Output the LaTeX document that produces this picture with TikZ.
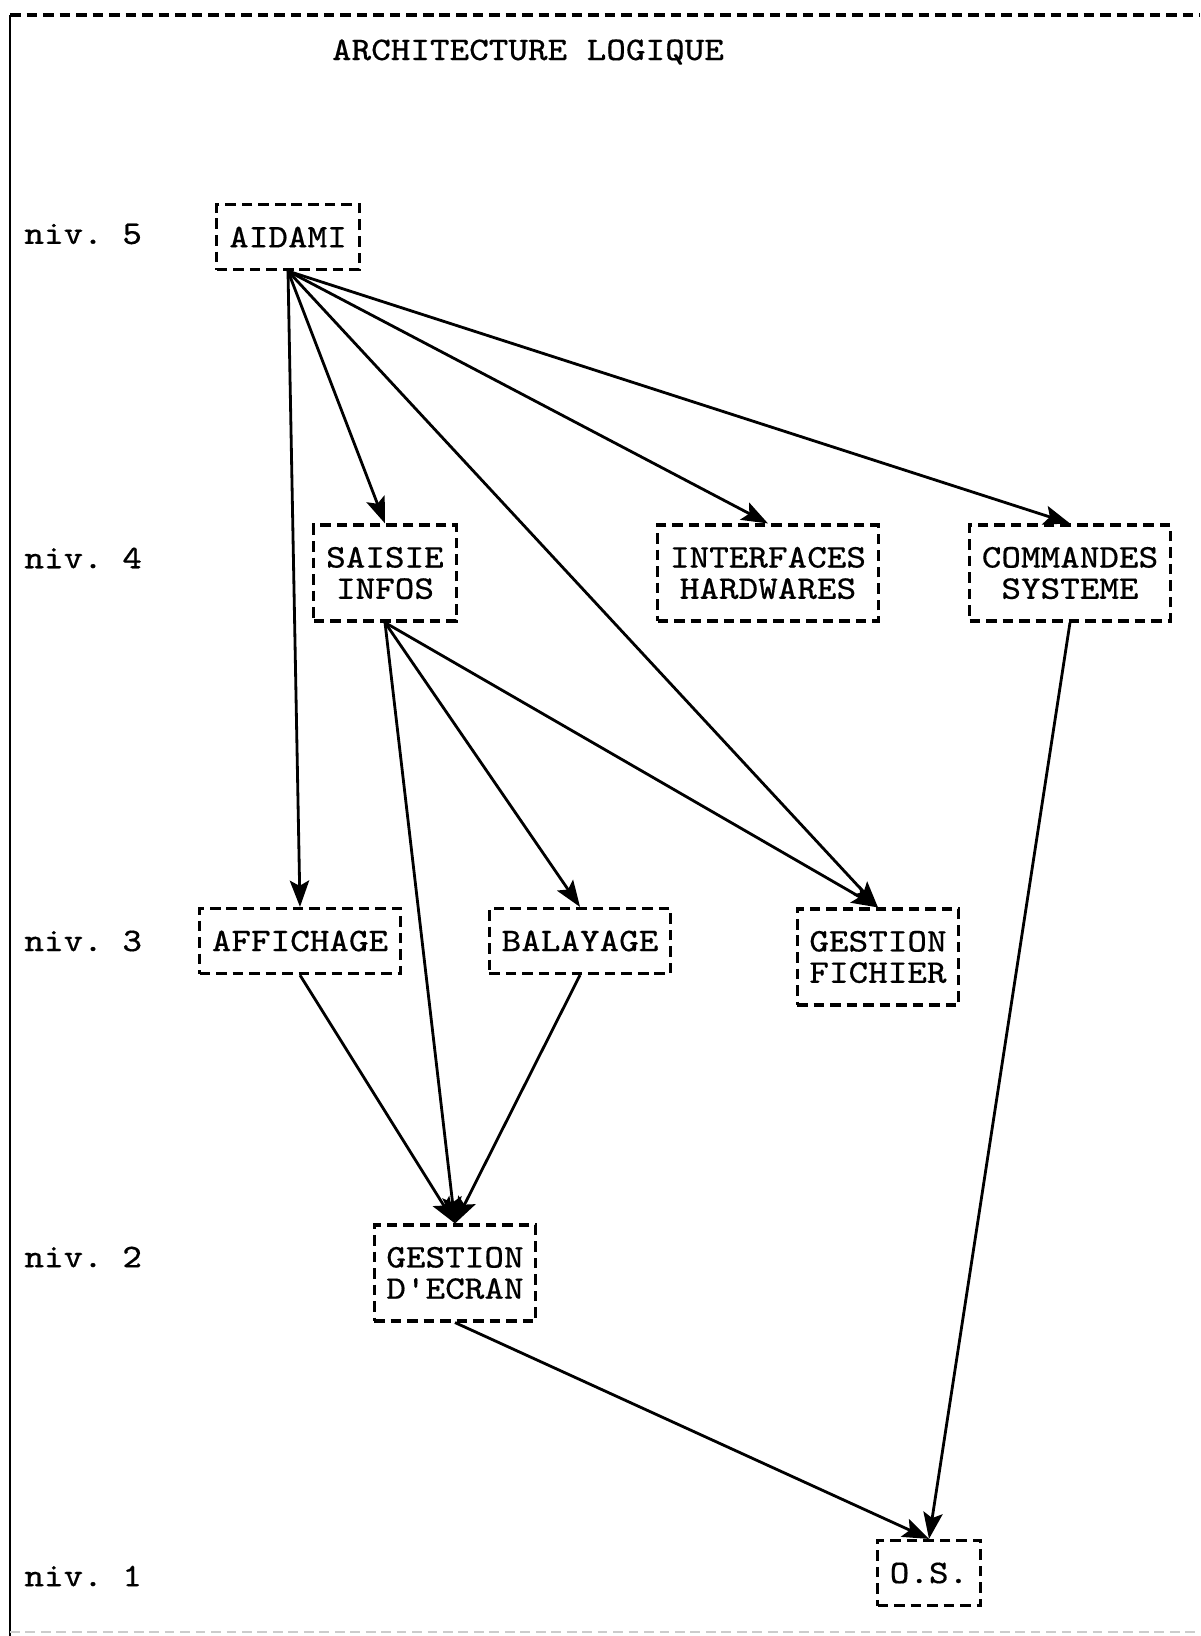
\documentclass[tikz,border=0pt]{standalone}
\usepackage{fontspec}
\setmonofont[FakeStretch=1.13,FakeBold=0.35]{Latin Modern Mono}
\usepackage{tikz}
\usetikzlibrary{arrows.meta,positioning,calc}
\tikzset{>={Stealth[length=7.5pt,width=5.5pt,inset=1.5pt]}}
\tikzset{
  boite/.style={draw, dash pattern=on 3pt off 1.7pt, line width=0.9pt, align=center,
    inner xsep=3.5pt, inner ysep=3pt, minimum height=18.5pt,
    font=\ttfamily\fontsize{9.4}{8.9}\selectfont},
  boite2/.style={boite, minimum height=27.3pt},
  niveau/.style={anchor=west, font=\ttfamily\fontsize{9.4}{8.9}\selectfont},
  fleche/.style={->, line width=0.8pt}
}

\begin{document}
\begin{tikzpicture}
\useasboundingbox (0,0) rectangle (12,-16.36);
\draw[dash pattern=on 3pt off 1.7pt, line width=0.9pt] (0.10,-0.15) -- (12,-0.15);
\draw[line width=0.8pt] (0.10,-0.15) -- (0.10,-16.36);
\draw[dash pattern=on 2.8pt off 1.6pt, line width=0.4pt, black!20] (0.10,-16.32) -- (12,-16.32);

\node[font=\ttfamily\fontsize{9.4}{8.9}\selectfont] (titre) at (5.28,-0.52) {ARCHITECTURE LOGIQUE};

\node[niveau] (n5) at (0.12,-2.34) {niv. 5};
\node[niveau] (n4) at (0.12,-5.58) {niv. 4};
\node[niveau] (n3) at (0.12,-9.41) {niv. 3};
\node[niveau] (n2) at (0.12,-12.57) {niv. 2};
\node[niveau] (n1) at (0.12,-15.76) {niv. 1};

\node[boite] (aidami) at (2.88,-2.37) {AIDAMI};
\node[boite2] (saisie) at (3.85,-5.73) {SAISIE\\ INFOS};
\node[boite2] (interf) at (7.68,-5.73) {INTERFACES\\HARDWARES};
\node[boite2] (comm) at (10.70,-5.73) {COMMANDES\\SYSTEME};
\node[boite] (affich) at (3.00,-9.41) {AFFICHAGE};
\node[boite] (balay) at (5.80,-9.41) {BALAYAGE};
\node[boite2] (gfich) at (8.78,-9.57) {GESTION\\FICHIER};
\node[boite2] (gecran) at (4.55,-12.73) {GESTION\\D'ECRAN};
\node[boite] (os) at (9.29,-15.73) {O.S.};

\draw[fleche] (aidami.south) -- (affich.north);
\draw[fleche] (aidami.south) -- (saisie.north);
\draw[fleche] (aidami.south) -- (gfich.north);
\draw[fleche] (aidami.south) -- (interf.north);
\draw[fleche] (aidami.south) -- (comm.north);
\draw[fleche] (saisie.south) -- (gfich.north);
\draw[fleche] (saisie.south) -- (balay.north);
\draw[fleche] (saisie.south) -- (gecran.north);
\draw[fleche] (affich.south) -- (gecran.north);
\draw[fleche] (balay.south) -- (gecran.north);
\draw[fleche] (comm.south) -- (os.north);
\draw[fleche] (gecran.south) -- (os.north);
\end{tikzpicture}
\end{document}
